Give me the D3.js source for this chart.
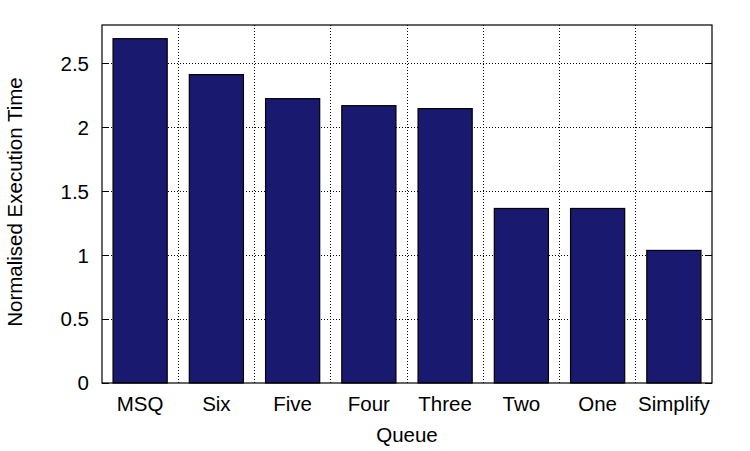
<!DOCTYPE html>
<html><head><meta charset="utf-8">
<script src="https://cdn.jsdelivr.net/npm/d3@7"></script>
<style>body{margin:0;background:#fff}svg{display:block}text{font-family:"Liberation Sans",Arial,sans-serif;fill:#000}</style>
</head><body>
<script>
const categories = ["MSQ","Six","Five","Four","Three","Two","One","Simplify"];
const values = [2.693, 2.412, 2.224, 2.169, 2.146, 1.365, 1.365, 1.037];
const yTicks = [0, 0.5, 1, 1.5, 2, 2.5];

const W = 750, H = 451;
const m = {left:102, right:38, top:25, bottom:68};
const pw = W - m.left - m.right, ph = H - m.top - m.bottom;
const svg = d3.select("body").append("svg").attr("width", W).attr("height", H);
const g = svg.append("g").attr("transform", `translate(${m.left},${m.top})`);

const x = d3.scaleBand().domain(categories).range([0, pw]).paddingInner(0.29).paddingOuter(0.145);
const y = d3.scaleLinear().domain([0, 2.8]).range([ph, 0]);
const step = x.step();
const FS = 20.5;

// grid
g.selectAll(".hg").data(yTicks.slice(1)).enter().append("line")
  .attr("x1", 0).attr("x2", pw).attr("y1", d => y(d)).attr("y2", d => y(d))
  .attr("stroke", "#000").attr("stroke-width", 1).attr("stroke-dasharray", "1,2")
  .attr("shape-rendering", "crispEdges");
g.selectAll(".vg").data(categories.slice(0, -1)).enter().append("line")
  .attr("x1", d => x(d) + x.bandwidth()/2 + step/2).attr("x2", d => x(d) + x.bandwidth()/2 + step/2)
  .attr("y1", 0).attr("y2", ph)
  .attr("stroke", "#000").attr("stroke-width", 1).attr("stroke-dasharray", "1,2")
  .attr("shape-rendering", "crispEdges");

// ticks (inward)
yTicks.forEach(t => {
  g.append("line").attr("x1", 0).attr("x2", 7).attr("y1", y(t)).attr("y2", y(t)).attr("stroke", "#000").attr("shape-rendering","crispEdges");
  g.append("line").attr("x1", pw-7).attr("x2", pw).attr("y1", y(t)).attr("y2", y(t)).attr("stroke", "#000").attr("shape-rendering","crispEdges");
});

// bars
g.selectAll(".bar").data(categories).enter().append("rect")
  .attr("x", d => x(d)).attr("width", x.bandwidth())
  .attr("y", (d,i) => y(values[i])).attr("height", (d,i) => ph - y(values[i]))
  .attr("fill", "#191970").attr("stroke", "#000").attr("stroke-width", 1.2);

// frame
g.append("rect").attr("x", 0).attr("y", 0).attr("width", pw).attr("height", ph)
  .attr("fill", "none").attr("stroke", "#000").attr("stroke-width", 1.2);

// y axis labels
g.selectAll(".yl").data(yTicks).enter().append("text")
  .attr("x", -13).attr("y", d => y(d)).attr("dy", "0.36em").attr("text-anchor", "end")
  .attr("font-size", FS).text(d => d);

// x axis labels
g.selectAll(".xl").data(categories).enter().append("text")
  .attr("x", d => x(d) + x.bandwidth()/2).attr("y", ph + 28).attr("text-anchor", "middle")
  .attr("font-size", FS).text(d => d);

svg.append("text").attr("x", m.left + pw/2).attr("y", 442).attr("text-anchor", "middle")
  .attr("font-size", FS).text("Queue");
svg.append("text").attr("transform", `translate(22,202) rotate(-90)`)
  .attr("text-anchor", "middle").attr("font-size", FS).text("Normalised Execution Time");
</script>
</body></html>
